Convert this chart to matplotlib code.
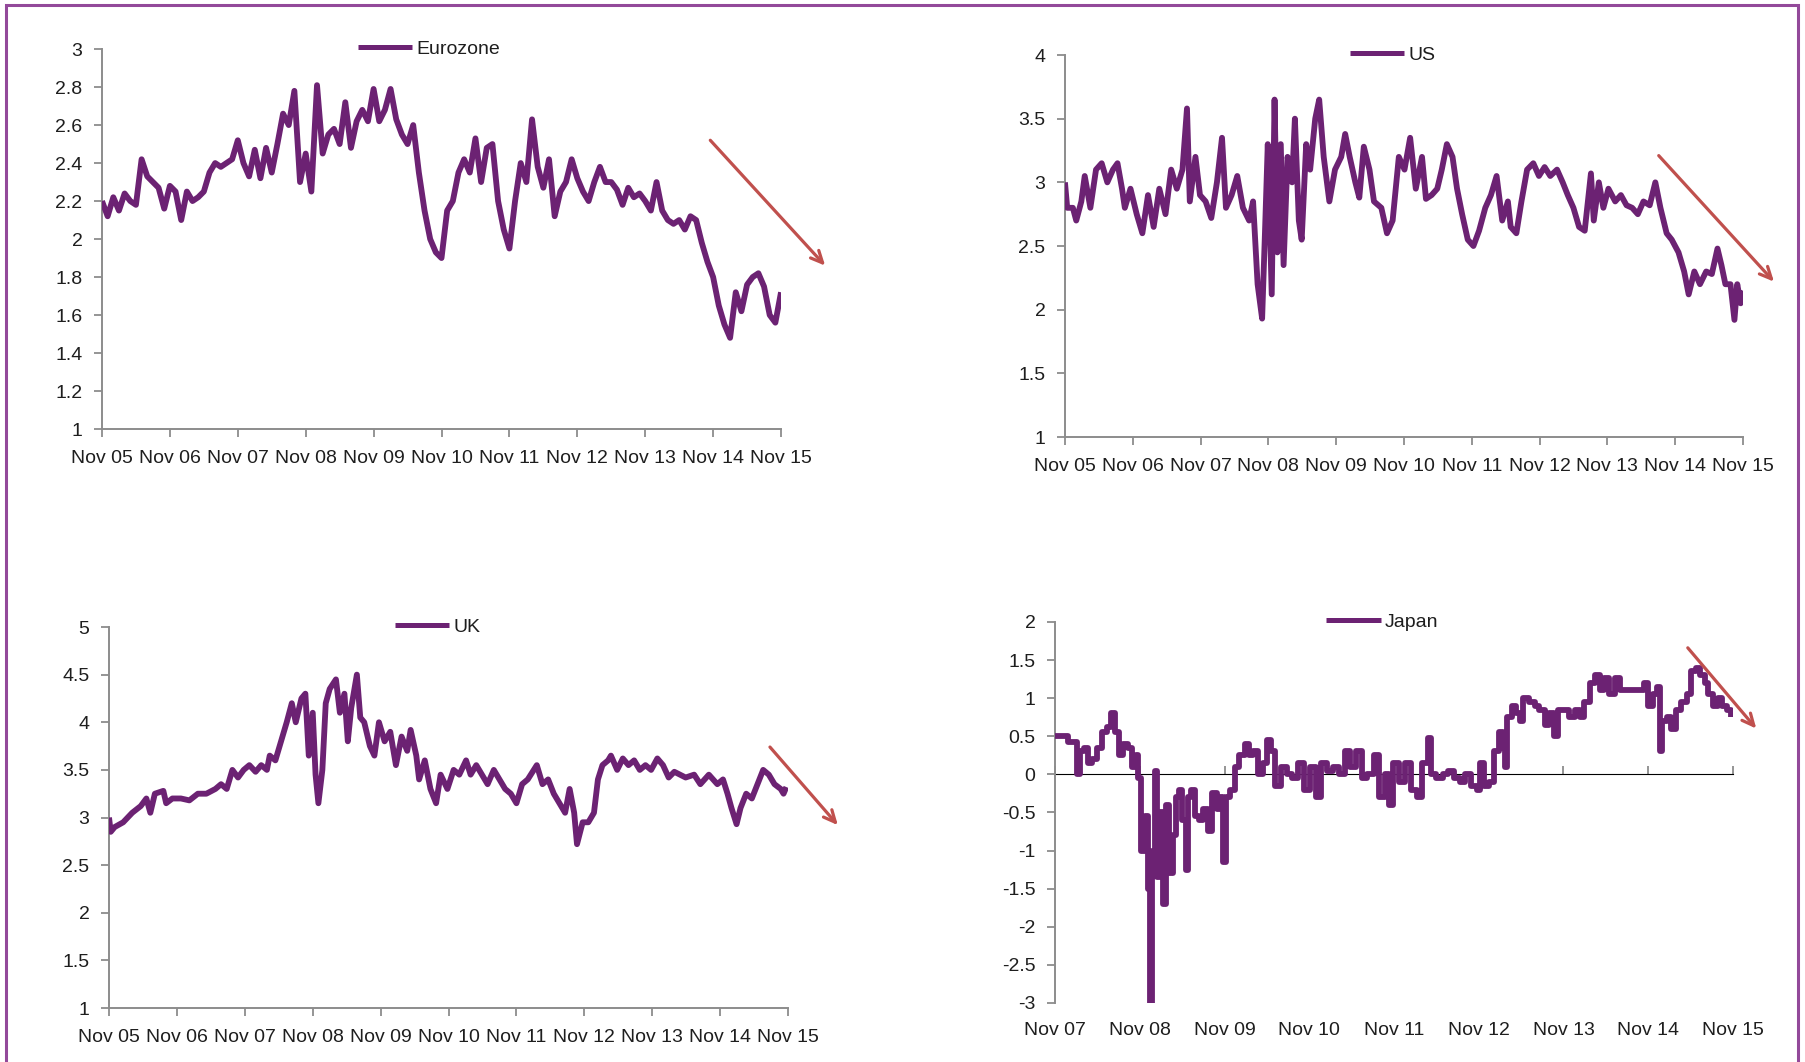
import matplotlib
matplotlib.use("Agg")
import matplotlib.pyplot as plt
from matplotlib.patches import Rectangle
from matplotlib.ticker import FuncFormatter

plt.rcParams['font.family'] = ['Liberation Sans', 'DejaVu Sans']

# ---------------------------------------------------------------------------
# Data: months since the first November on each axis, and the series level
# ---------------------------------------------------------------------------
eu_months = list(range(121))
eu_values = [2.2, 2.12, 2.22, 2.15, 2.24, 2.2, 2.18, 2.42, 2.33, 2.3,
             2.27, 2.16, 2.28, 2.25, 2.1, 2.25, 2.2, 2.22, 2.25, 2.35,
             2.4, 2.38, 2.4, 2.42, 2.52, 2.4, 2.33, 2.47, 2.32, 2.48,
             2.35, 2.5, 2.66, 2.6, 2.78, 2.3, 2.45, 2.25, 2.81, 2.45,
             2.55, 2.58, 2.5, 2.72, 2.48, 2.62, 2.68, 2.62, 2.79, 2.62,
             2.68, 2.79, 2.63, 2.55, 2.5, 2.6, 2.35, 2.15, 2.0, 1.93,
             1.9, 2.15, 2.2, 2.35, 2.42, 2.35, 2.53, 2.3, 2.48, 2.5,
             2.2, 2.05, 1.95, 2.2, 2.4, 2.3, 2.63, 2.38, 2.27, 2.42,
             2.12, 2.25, 2.3, 2.42, 2.32, 2.25, 2.2, 2.3, 2.38, 2.3,
             2.3, 2.26, 2.18, 2.27, 2.22, 2.24, 2.2, 2.15, 2.3, 2.15,
             2.1, 2.08, 2.1, 2.05, 2.12, 2.1, 1.98, 1.88, 1.8, 1.65,
             1.55, 1.48, 1.72, 1.62, 1.76, 1.8, 1.82, 1.75, 1.6, 1.56,
             1.72]

us_months = [0, 0.4, 1.4, 2.0, 2.9, 3.5, 4.5, 5.5, 6.5, 7.5, 8.5, 9.3, 10.1,
             10.6, 11.6, 12.7, 13.7, 14.7, 15.7, 16.7, 17.8, 18.8, 19.8, 20.8,
             21.6, 22.1, 23.1, 23.9, 24.9, 25.9, 26.9, 27.8, 28.5, 29.5, 30.5,
             31.5, 32.6, 33.3, 34.1, 34.9, 35.4, 35.9, 36.6, 37.1, 37.6, 38.2,
             38.7, 39.4, 40.2, 40.7, 41.4, 41.9, 42.7, 43.4, 44.3, 45.0, 45.8,
             46.8, 47.8, 48.9, 49.6, 50.4, 51.4, 52.1, 52.9, 53.9, 54.7, 56.0,
             57.0, 58.0, 59.1, 60.1, 61.1, 62.1, 63.2, 63.9, 64.9, 65.9, 66.7,
             67.6, 68.6, 69.4, 70.3, 71.3, 72.3, 73.3, 74.4, 75.4, 76.4, 77.4,
             78.4, 78.9, 79.9, 80.8, 81.8, 82.9, 83.9, 84.9, 85.9, 87.1, 88.1,
             89.0, 90.0, 91.0, 92.0, 93.1, 93.6, 94.5, 95.3, 96.2, 97.4, 98.4,
             99.4, 100.4, 101.4, 102.4, 103.5, 104.5, 105.4, 106.5, 107.4,
             108.6, 109.6, 110.4, 111.4, 112.4, 113.5, 114.5, 115.5, 116.2,
             116.9, 117.8, 118.5, 119.0, 119.6, 120.0]
us_values = [3.0, 2.8, 2.8, 2.7, 2.85, 3.05, 2.8, 3.1, 3.15, 3.0, 3.1, 3.15,
             2.95, 2.8, 2.95, 2.75, 2.6, 2.9, 2.65, 2.95, 2.75, 3.1, 2.95, 3.1,
             3.58, 2.85, 3.2, 2.9, 2.85, 2.72, 3.0, 3.35, 2.8, 2.9, 3.05, 2.8,
             2.7, 2.85, 2.2, 1.93, 2.6, 3.3, 2.12, 3.65, 2.45, 3.3, 2.35, 3.2,
             3.0, 3.5, 2.7, 2.55, 3.3, 3.1, 3.5, 3.65, 3.2, 2.85, 3.1, 3.2,
             3.38, 3.2, 3.0, 2.88, 3.28, 3.1, 2.85, 2.8, 2.6, 2.7, 3.2, 3.1,
             3.35, 2.95, 3.2, 2.87, 2.9, 2.95, 3.1, 3.3, 3.2, 2.95, 2.75, 2.55,
             2.5, 2.62, 2.8, 2.9, 3.05, 2.7, 2.85, 2.65, 2.6, 2.85, 3.1, 3.15,
             3.05, 3.12, 3.05, 3.1, 3.0, 2.9, 2.8, 2.65, 2.62, 3.07, 2.7, 3.0,
             2.8, 2.95, 2.85, 2.9, 2.82, 2.8, 2.75, 2.85, 2.82, 3.0, 2.8, 2.6,
             2.55, 2.45, 2.3, 2.12, 2.3, 2.2, 2.3, 2.28, 2.48, 2.35, 2.2, 2.2,
             1.92, 2.2, 2.05, 2.15]

uk_months = [0, 0.3, 1.0, 2.5, 4.1, 5.6, 6.6, 7.3, 8.1, 9.6, 10.1, 11.2, 12.7,
             14.2, 15.7, 17.2, 18.8, 19.8, 20.8, 21.8, 22.8, 23.8, 24.8, 25.9,
             26.9, 27.9, 28.4, 29.4, 30.4, 31.4, 32.3, 33.0, 34.0, 34.7, 35.3,
             36.0, 36.5, 37.0, 37.7, 38.3, 39.0, 40.1, 40.8, 41.6, 42.2, 42.8,
             43.8, 44.4, 45.1, 46.1, 46.9, 47.7, 48.7, 49.7, 50.7, 51.7, 52.7,
             53.3, 54.3, 54.8, 55.8, 56.8, 57.8, 58.6, 59.8, 60.9, 61.9, 63.1,
             63.9, 64.9, 65.9, 66.9, 68.0, 69.0, 70.0, 71.0, 72.0, 73.0, 74.0,
             75.6, 76.6, 77.6, 78.6, 79.6, 80.6, 81.4, 82.2, 82.7, 83.7, 84.7,
             85.7, 86.4, 87.2, 88.2, 88.7, 89.8, 90.8, 91.8, 92.8, 93.8, 94.8,
             95.8, 96.9, 97.9, 98.9, 99.9, 100.9, 101.9, 103.4, 104.5, 106.0,
             107.5, 108.5, 109.3, 110.0, 110.9, 111.6, 112.6, 113.6, 114.6,
             115.6, 116.6, 117.6, 118.7, 119.2, 119.7]
uk_values = [3.0, 2.85, 2.9, 2.95, 3.05, 3.12, 3.2, 3.05, 3.25, 3.28, 3.15,
             3.2, 3.2, 3.18, 3.25, 3.25, 3.3, 3.35, 3.3, 3.5, 3.42, 3.5, 3.55,
             3.48, 3.55, 3.5, 3.65, 3.6, 3.8, 4.0, 4.2, 4.0, 4.25, 4.3, 3.65,
             4.1, 3.45, 3.15, 3.5, 4.2, 4.35, 4.45, 4.1, 4.3, 3.8, 4.15, 4.5,
             4.05, 4.0, 3.75, 3.65, 4.0, 3.8, 3.9, 3.55, 3.85, 3.7, 3.92, 3.65,
             3.4, 3.6, 3.3, 3.15, 3.45, 3.3, 3.5, 3.45, 3.6, 3.45, 3.55, 3.45,
             3.35, 3.5, 3.4, 3.3, 3.25, 3.15, 3.35, 3.4, 3.55, 3.35, 3.4, 3.25,
             3.15, 3.05, 3.3, 3.05, 2.72, 2.95, 2.95, 3.05, 3.4, 3.55, 3.6,
             3.65, 3.5, 3.62, 3.55, 3.6, 3.5, 3.55, 3.5, 3.62, 3.55, 3.42,
             3.48, 3.45, 3.42, 3.45, 3.35, 3.45, 3.35, 3.4, 3.25, 3.1, 2.93,
             3.1, 3.25, 3.2, 3.35, 3.5, 3.45, 3.35, 3.3, 3.25, 3.32]

jp_months = [0, 1.0, 1.8, 2.6, 3.1, 3.6, 4.1, 4.7, 5.3, 5.9, 6.7, 7.3, 7.9,
             8.5, 9.0, 9.6, 10.4, 10.9, 11.4, 11.8, 12.2, 12.8, 13.2, 13.5,
             13.8, 14.1, 14.4, 14.9, 15.3, 15.7, 16.2, 16.7, 17.1, 17.6, 18.0,
             18.5, 18.9, 19.3, 19.8, 20.4, 21.0, 21.6, 22.2, 22.9, 23.4, 23.8,
             24.2, 24.8, 25.5, 26.1, 26.9, 27.5, 28.1, 28.7, 29.4, 30.0, 30.6,
             31.2, 32.0, 32.8, 33.6, 34.4, 35.3, 36.1, 36.9, 37.7, 38.5, 39.3,
             40.2, 41.0, 41.8, 42.6, 43.4, 44.2, 45.1, 45.9, 46.7, 47.3, 47.9,
             48.7, 49.6, 50.4, 51.2, 52.0, 52.8, 53.2, 54.0, 54.9, 55.7, 56.5,
             57.3, 58.1, 58.9, 59.8, 60.2, 60.7, 61.4, 62.2, 62.9, 63.4, 63.7,
             64.0, 64.7, 65.3, 65.9, 66.3, 67.1, 67.9, 68.6, 69.4, 70.0, 70.6,
             71.2, 72.0, 72.8, 73.6, 74.4, 74.9, 75.7, 76.5, 77.1, 77.7, 78.5,
             79.3, 80.0, 81.0, 82.6, 83.4, 84.0, 84.7, 85.2, 85.6, 86.0, 86.7,
             87.2, 87.9, 88.7, 89.5, 90.1, 90.8, 91.4, 92.0, 92.5, 93.2, 93.9,
             94.5, 95.1, 95.7]
jp_values = [0.5, 0.5, 0.42, 0.42, 0.0, 0.3, 0.35, 0.15, 0.2, 0.35, 0.55,
             0.62, 0.8, 0.55, 0.25, 0.4, 0.35, 0.1, 0.25, -0.05, -1.0, -0.55,
             -1.5, -3.0, -1.0, 0.05, -1.35, -0.5, -1.7, -0.4, -1.3, -0.8, -0.3,
             -0.2, -0.6, -1.25, -0.3, -0.2, -0.55, -0.6, -0.45, -0.75, -0.25,
             -0.45, -0.3, -1.15, -0.3, -0.2, 0.1, 0.25, 0.4, 0.25, 0.3, 0.0,
             0.15, 0.45, 0.3, -0.15, 0.1, 0.0, -0.05, 0.15, -0.2, 0.1, -0.3,
             0.15, 0.05, 0.1, 0.0, 0.3, 0.1, 0.3, -0.05, 0.0, 0.25, -0.3, 0.0,
             -0.4, 0.15, -0.1, 0.15, -0.2, -0.3, 0.15, 0.48, 0.0, -0.05, 0.0,
             0.05, -0.05, -0.1, 0.0, -0.15, -0.2, 0.15, -0.15, -0.1, 0.3, 0.55,
             0.35, 0.1, 0.75, 0.9, 0.8, 0.7, 1.0, 0.95, 0.9, 0.85, 0.65, 0.8,
             0.5, 0.85, 0.85, 0.75, 0.85, 0.75, 0.95, 1.2, 1.3, 1.1, 1.27, 1.05,
             1.27, 1.1, 1.1, 1.1, 1.2, 0.9, 1.05, 1.15, 0.3, 0.7, 0.75, 0.6,
             0.85, 0.95, 1.05, 1.35, 1.4, 1.3, 1.2, 1.05, 0.9, 1.0, 0.9, 0.85,
             0.75]

labels_05_15 = ['Nov 05', 'Nov 06', 'Nov 07', 'Nov 08', 'Nov 09', 'Nov 10',
                'Nov 11', 'Nov 12', 'Nov 13', 'Nov 14', 'Nov 15']
labels_07_15 = ['Nov 07', 'Nov 08', 'Nov 09', 'Nov 10', 'Nov 11', 'Nov 12',
                'Nov 13', 'Nov 14', 'Nov 15']

# ---------------------------------------------------------------------------
# Styling
# ---------------------------------------------------------------------------
LINE = '#6C2273'
ARROW = '#C0504D'
AXIS = '#8C8C8C'
TEXT = '#1E1E1E'
FRAME = '#93499A'
FS = 14

fig = plt.figure(figsize=(18.05, 10.62), dpi=100)
fig.patch.set_facecolor('white')

fmt = FuncFormatter(lambda v, p: f'{v:g}')


def make_panel(rect, months, values, name, xlabels, ylim, ystep,
               legend_x, arrow_from, arrow_to, steps=False, zero_axis=False):
    ax = fig.add_axes(rect)
    ax.plot(months, values, color=LINE, lw=4.2, label=name,
            drawstyle='steps-post' if steps else 'default',
            solid_joinstyle='round', solid_capstyle='butt', zorder=3)
    ax.set_xlim(0, 12 * (len(xlabels) - 1))
    ax.set_ylim(*ylim)
    ticks = [ylim[0] + ystep * i
             for i in range(int(round((ylim[1] - ylim[0]) / ystep)) + 1)]
    ax.set_yticks(ticks)
    ax.yaxis.set_major_formatter(fmt)
    ax.set_xticks([12 * i for i in range(len(xlabels))])
    ax.set_xticklabels(xlabels)
    for s in ('top', 'right'):
        ax.spines[s].set_visible(False)
    for s in ('left', 'bottom'):
        ax.spines[s].set_color(AXIS)
        ax.spines[s].set_linewidth(1.4)
    ax.tick_params(axis='y', direction='out', length=6, width=1.3,
                   color=AXIS, labelsize=FS, labelcolor=TEXT, pad=8)
    ax.tick_params(axis='x', direction='out', length=6, width=1.3,
                   color=AXIS, labelsize=FS, labelcolor=TEXT, pad=9)
    if zero_axis:
        ax.spines['bottom'].set_visible(False)
        ax.tick_params(axis='x', length=0, pad=14)
        frac = (0 - ylim[0]) / (ylim[1] - ylim[0])
        sec = ax.secondary_xaxis(frac)
        sec.set_xticks([12 * i for i in range(len(xlabels))])
        sec.set_xticklabels([])
        sec.spines['bottom'].set_color(AXIS)
        sec.spines['bottom'].set_linewidth(1.4)
        sec.tick_params(axis='x', direction='out', length=6, width=1.3,
                        color=AXIS)
        sec.set_zorder(0)
    ax.set_facecolor('none')
    leg = ax.legend(loc='center left', bbox_to_anchor=(legend_x, 1.0),
                    frameon=False, fontsize=FS, handlelength=2.8,
                    handletextpad=0.2, borderpad=0, borderaxespad=0)
    for t in leg.get_texts():
        t.set_color(TEXT)
    leg.get_lines()[0].set_linewidth(3.6)
    ax.annotate('', xy=arrow_to, xytext=arrow_from,
                arrowprops=dict(arrowstyle='->,head_length=0.85,head_width=0.4',
                                color=ARROW, lw=2.3, shrinkA=0, shrinkB=0),
                annotation_clip=False, zorder=4)
    return ax


make_panel([0.0565, 0.5960, 0.3762, 0.3578], eu_months, eu_values,
           'Eurozone', labels_05_15, (1, 3), 0.2, 0.377,
           (107.5, 2.52), (127.8, 1.86))
make_panel([0.5900, 0.5885, 0.3756, 0.3597], us_months, us_values,
           'US', labels_05_15, (1, 4), 0.5, 0.420,
           (105.1, 3.21), (125.5, 2.22))
make_panel([0.0604, 0.0508, 0.3762, 0.3588], uk_months, uk_values,
           'UK', labels_05_15, (1, 5), 0.5, 0.421,
           (116.8, 3.74), (128.8, 2.92))
make_panel([0.5845, 0.0556, 0.3756, 0.3588], jp_months, jp_values,
           'Japan', labels_07_15, (-3, 2), 0.5, 0.400,
           (89.6, 1.66), (99.3, 0.60), steps=True, zero_axis=True)

# Outer purple frame around the whole exhibit
fig.patches.append(Rectangle((6 / 1805, -0.02), 1792 / 1805, 1.02 - 5 / 1062,
                             transform=fig.transFigure, fill=False,
                             edgecolor=FRAME, lw=2.2, zorder=10))

fig.savefig('out.png', dpi=100, facecolor='white')
